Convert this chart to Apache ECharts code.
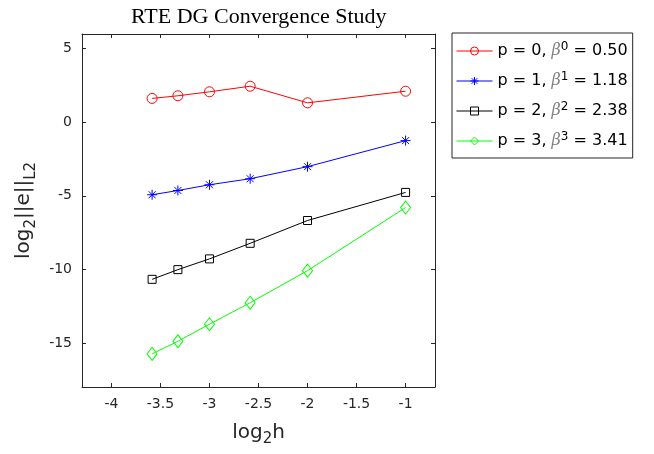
<!DOCTYPE html>
<html>
<head>
<meta charset="utf-8">
<script src="https://cdn.jsdelivr.net/npm/echarts@6/dist/echarts.min.js"></script>
<style>
  html, body { margin: 0; padding: 0; background: #fff; }
  #main { width: 654px; height: 454px; }
</style>
</head>
<body>
<div id="main"></div>
<script>
// log2(h) for h = 1/12, 1/10, 1/8, 1/6, 1/4, 1/2
var logH = [-3.585, -3.322, -3.0, -2.585, -2.0, -1.0];
// log2 of the L2 error, one array per polynomial degree
var errP0 = [1.62, 1.80, 2.07, 2.45, 1.32, 2.11];
var errP1 = [-4.93, -4.64, -4.25, -3.84, -3.02, -1.25];
var errP2 = [-10.68, -10.02, -9.29, -8.23, -6.68, -4.77];
var errP3 = [-15.75, -14.89, -13.73, -12.27, -10.09, -5.80];
var rates = ['0.50', '1.18', '2.38', '3.41'];
var xTicks = [-4, -3.5, -3, -2.5, -2, -1.5, -1];
var yTicks = [-15, -10, -5, 0, 5];

var axisColor = '#262626';
var names = ['p0', 'p1', 'p2', 'p3'];
var colors = ['#ff0000', '#0000ff', '#000000', '#00ff00'];
// markers are outlines only, like matlab's o * s d
var symbols = [
  'circle',
  'path://M5,0L5,10M0,5L10,5M1.5,1.5L8.5,8.5M8.5,1.5L1.5,8.5',
  'rect',
  'diamond'
];
var sizes = [10, 10, 8, [10, 13]];
var errs = [errP0, errP1, errP2, errP3];

function pairs(ys) {
  return logH.map(function (x, i) { return [x, ys[i]]; });
}

var myChart = echarts.init(document.getElementById('main'));

var series = errs.map(function (ys, k) {
  return {
    name: names[k],
    type: 'line',
    data: pairs(ys),
    symbol: symbols[k],
    symbolSize: sizes[k],
    showSymbol: true,
    animation: false,
    lineStyle: { color: colors[k], width: 1 },
    itemStyle: { color: 'rgba(0,0,0,0)', borderColor: colors[k], borderWidth: 1 },
    emphasis: { disabled: true }
  };
});

function tickAxis(pos, min, max, ticks, withLabel, name) {
  var ax = {
    type: 'value',
    position: pos,
    min: min,
    max: max,
    axisLine: { show: true, onZero: false, lineStyle: { color: axisColor, width: 1 } },
    axisTick: { show: true, inside: true, length: 4, customValues: ticks, lineStyle: { color: axisColor } },
    axisLabel: { show: withLabel, customValues: ticks, color: axisColor, fontSize: 14, fontFamily: 'DejaVu Sans', margin: 10 },
    splitLine: { show: false }
  };
  if (name) {
    ax.name = name;
    ax.nameLocation = 'middle';
  }
  return ax;
}

var nameRich = {
  m: { fontSize: 20, fontFamily: 'DejaVu Sans', color: axisColor, lineHeight: 28 },
  s: { fontSize: 15, fontFamily: 'DejaVu Sans', color: axisColor, lineHeight: 28, verticalAlign: 'bottom' }
};
var xBottom = tickAxis('bottom', -4.3, -0.7, xTicks, true, '{m|log}{s|2}{m|h}');
xBottom.nameGap = 32;
xBottom.nameTextStyle = { rich: nameRich };
var yLeft = tickAxis('left', -18, 6, yTicks, true, '{m|log}{s|2}{m|||e||}{s|L2}');
yLeft.nameGap = 40;
yLeft.nameTextStyle = { rich: nameRich };

myChart.setOption({
  animation: false,
  title: {
    text: 'RTE DG Convergence Study',
    left: 126,
    top: 1,
    textStyle: { fontFamily: 'Liberation Serif', fontSize: 22, fontWeight: 'normal', color: '#000' }
  },
  legend: {
    orient: 'vertical',
    left: 452,
    top: 33,
    padding: [8, 5, 9, 4],
    itemGap: 12,
    itemWidth: 36,
    itemHeight: 10,
    borderColor: axisColor,
    borderWidth: 1,
    backgroundColor: '#fff',
    data: names.map(function (n, k) {
      return {
        name: n,
        itemStyle: { color: 'rgba(0,0,0,0)', borderColor: colors[k], borderWidth: 1 },
        lineStyle: { color: colors[k], width: 1 }
      };
    }),
    formatter: function (name) {
      var i = names.indexOf(name);
      return '{t|p = ' + i + ', }{b|\u03b2}{s|' + i + '}{t| = ' + rates[i] + '}';
    },
    textStyle: {
      rich: {
        t: { fontSize: 16, fontFamily: 'DejaVu Sans', color: '#000', lineHeight: 20 },
        b: { fontSize: 16, fontFamily: 'DejaVu Serif', fontStyle: 'italic', color: '#808080', lineHeight: 20 },
        s: { fontSize: 12, fontFamily: 'DejaVu Sans', color: '#000', lineHeight: 20, verticalAlign: 'top' }
      }
    }
  },
  grid: { left: 82, right: 219, top: 34, bottom: 67, containLabel: false },
  xAxis: [xBottom, tickAxis('top', -4.3, -0.7, xTicks, false)],
  yAxis: [yLeft, tickAxis('right', -18, 6, yTicks, false)],
  series: series
});
</script>
</body>
</html>
